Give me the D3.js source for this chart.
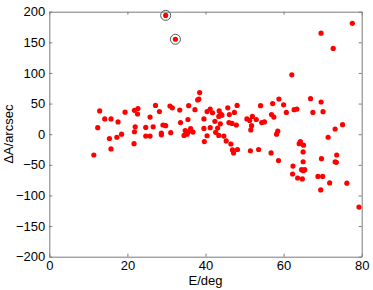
<!DOCTYPE html>
<html>
<head>
<meta charset="utf-8">
<script src="https://cdn.jsdelivr.net/npm/d3@7"></script>
<style>
  body { margin: 0; background: #fff; }
  text { font-family: "Liberation Sans", Arial, sans-serif; }
</style>
</head>
<body>
<div id="chart"></div>
<script>
// elevation (deg) and azimuth residual (arcsec)
const elev = [
  11.4, 12.4, 12.9, 14.2, 15.8, 17.6, 19.4, 18.5, 17.3, 15.4, 15.8,
  21.8, 22.7, 22.6, 22.0, 21.8, 21.7,
  27.2, 28.2, 25.8, 30.9, 31.5, 33.4, 35.7, 37.3, 38.5, 38.3, 38.0,
  40.4, 41.2, 41.8, 24.7, 26.6, 29.1, 29.8, 33.6, 35.5, 39.6,
  28.7, 28.7, 31.1, 24.7, 25.8, 34.8, 35.6, 36.2, 36.8, 35.3, 34.5,
  39.6, 41.2, 43.1, 40.4, 39.7,
  43.5, 43.9, 43.4, 44.2, 45.7, 48.1, 47.4, 46.1, 42.4, 43.8, 46.0, 46.8, 47.9,
  42.6, 43.4, 44.7, 45.3, 46.5, 46.9, 47.2, 48.2,
  50.6, 51.3, 52.0, 53.0, 51.8, 51.6, 54.1, 54.4, 55.1, 51.5, 53.6,
  57.2, 58.8, 60.0, 60.7, 56.9, 57.5, 58.5, 58.2, 56.8, 58.7,
  62.7, 63.4, 66.9, 69.6, 67.5, 70.1, 75.1, 73.2, 71.4,
  64.3, 64.0, 65.1, 65.0, 65.0, 69.7, 73.6, 73.2, 73.5,
  62.4, 64.6, 65.4, 65.0, 62.3, 63.6, 64.8, 68.8, 70.0, 71.8, 76.2, 69.5, 79.3,
  77.6, 69.6, 72.7, 62.1
];
const dAz = [
  -34, 10.6, 38, 25, 25, 20, 36, 0, -5, -7, -24,
  39, 42, 33, 12, 4, -15.5,
  47, 37, 28, 46, 43, 39.5, 46.5, 40, 68, 57.5, 56,
  37, 41, 35, 11, 12, 15, 14, 19, 24, 25,
  2, -1, 2.5, -3, -3, 6, 4, 9, 3.5, 0, -2,
  9.5, 10.6, 10, -2.5, -12,
  38, 33, 29, 31, 43, 47, 35.6, 32, 21, 17, 19, 17.6, 15,
  3, -2, -3, -11, -16, -25.6, -30.5, -25,
  25, 22.5, 29, 24, 14, 7, 46.5, 19, 20, -27, -25,
  50, 57.5, 48, 35.6, 32, 28, 5, 0, -30.5, -43,
  40, 41, 58, 52.6, 35.6, 36.7, 15.5, 8.5, -5,
  -12, -15.5, -18, -29, -45, -40, -34, -45, -46,
  -52, -58, -58, -59.6, -65, -71.5, -73, -69, -69, -79.5, -80, -91, -119,
  181, 165, 140, 97
];
// two circled outliers
const outElev = [29.8, 32.3];
const outAz = [194, 155];

const xTicks = [0, 20, 40, 60, 80];
const yTicks = [-200, -150, -100, -50, 0, 50, 100, 150, 200];

const W = 373, H = 290;
const margin = { top: 11.7, right: 11.3, bottom: 33.3, left: 49.3 };
const iw = W - margin.left - margin.right;
const ih = H - margin.top - margin.bottom;
const axisColor = "#7a7a7a";

const svg = d3.select("#chart").append("svg")
  .attr("width", W).attr("height", H);

const g = svg.append("g")
  .attr("transform", `translate(${margin.left},${margin.top})`);

const x = d3.scaleLinear().domain([0, 80]).range([0, iw]);
const y = d3.scaleLinear().domain([-200, 200]).range([ih, 0]);

// axes with inward ticks on all four sides
function styleAxis(sel, showText) {
  sel.select(".domain").attr("stroke", axisColor);
  sel.selectAll(".tick line").attr("stroke", axisColor);
  sel.selectAll(".tick text")
    .attr("fill", "#000")
    .style("font-size", "13px")
    .style("display", showText ? null : "none");
}

g.append("g")
  .attr("transform", `translate(0,${ih})`)
  .call(d3.axisBottom(x).tickValues(xTicks).tickSizeInner(-3).tickSizeOuter(0).tickPadding(4))
  .call(s => styleAxis(s, true));

g.append("g")
  .call(d3.axisTop(x).tickValues(xTicks).tickSizeInner(-3).tickSizeOuter(0))
  .call(s => styleAxis(s, false));

g.append("g")
  .call(d3.axisLeft(y).tickValues(yTicks).tickSizeInner(-3).tickSizeOuter(0).tickPadding(4))
  .call(s => styleAxis(s, true));

g.append("g")
  .attr("transform", `translate(${iw},0)`)
  .call(d3.axisRight(y).tickValues(yTicks).tickSizeInner(-3).tickSizeOuter(0))
  .call(s => styleAxis(s, false));

// points
g.append("g").selectAll("circle.pt")
  .data(elev.map((e, i) => [e, dAz[i]]))
  .enter().append("circle")
  .attr("class", "pt")
  .attr("cx", d => x(d[0]))
  .attr("cy", d => y(d[1]))
  .attr("r", 2.6)
  .attr("fill", "#ff0000");

const outs = outElev.map((e, i) => [e, outAz[i]]);
g.append("g").selectAll("circle.ring")
  .data(outs)
  .enter().append("circle")
  .attr("class", "ring")
  .attr("cx", d => x(d[0]))
  .attr("cy", d => y(d[1]))
  .attr("r", 5)
  .attr("fill", "none")
  .attr("stroke", "#555")
  .attr("stroke-width", 1);

g.append("g").selectAll("circle.out")
  .data(outs)
  .enter().append("circle")
  .attr("class", "out")
  .attr("cx", d => x(d[0]))
  .attr("cy", d => y(d[1]))
  .attr("r", 2.6)
  .attr("fill", "#ff0000");

// axis labels
svg.append("text")
  .attr("x", margin.left + iw / 2)
  .attr("y", 285)
  .attr("text-anchor", "middle")
  .style("font-size", "13px")
  .text("E/deg");

svg.append("text")
  .attr("transform", `translate(13,${margin.top + ih / 2}) rotate(-90)`)
  .attr("text-anchor", "middle")
  .style("font-size", "13px")
  .text("ΔA/arcsec");
</script>
</body>
</html>
